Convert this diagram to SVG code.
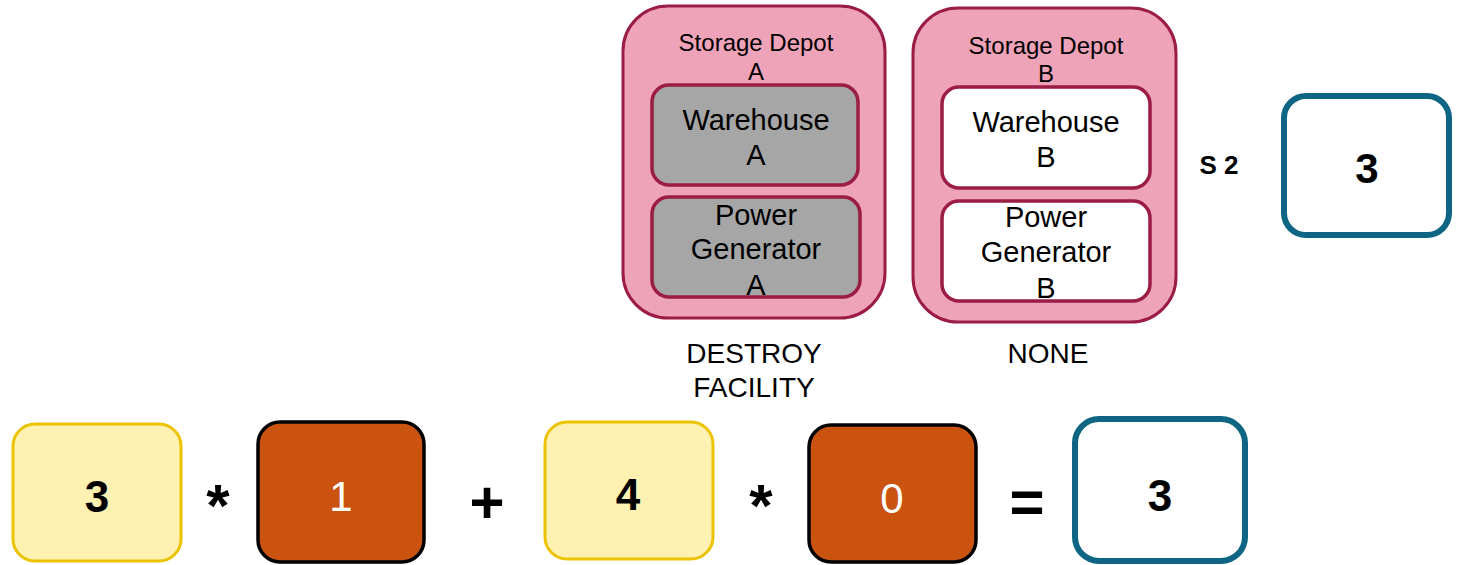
<svg xmlns="http://www.w3.org/2000/svg" width="1458" height="565" viewBox="0 0 1458 565">
  <style>
    text { font-family: "Liberation Sans", Arial, sans-serif; fill: #000; text-anchor: middle; }
    .depot { fill: #efa3b8; stroke: #9b1c45; stroke-width: 3; }
    .inner { stroke: #9b1c45; stroke-width: 3.5; }
    .destroyed { fill: #a6a6a6; }
    .intact { fill: #ffffff; }
    .weight { fill: #fff1b1; stroke: #ebc300; stroke-width: 3; }
    .flag { fill: #c9530f; stroke: #000; stroke-width: 3.5; }
    .result { fill: #ffffff; stroke: #0e6584; stroke-width: 6; }
    .t24 { font-size: 24px; }
    .t28 { font-size: 28px; }
    .t29 { font-size: 29px; }
    .num { font-size: 44px; font-weight: bold; }
    .flagnum { font-size: 42px; fill: #ffffff; }
    .op { font-size: 60px; font-weight: bold; }
  </style>

  <!-- Storage depot A: both facilities destroyed -->
  <g id="depot-a">
    <rect class="depot" x="623" y="6" width="262" height="312" rx="45"/>
    <text class="t24" x="756" y="51">Storage Depot</text>
    <text class="t24" x="756" y="80">A</text>
  </g>
  <g id="warehouse-a">
    <rect class="inner destroyed" x="652" y="85" width="206" height="100" rx="17"/>
    <text class="t29" x="756" y="130">Warehouse</text>
    <text class="t29" x="756" y="165">A</text>
  </g>
  <g id="generator-a">
    <rect class="inner destroyed" x="652" y="197" width="208" height="100" rx="17"/>
    <text class="t29" x="756" y="225">Power</text>
    <text class="t29" x="756" y="259">Generator</text>
    <text class="t29" x="756" y="295">A</text>
  </g>
  <g id="label-a">
    <text class="t28" x="754" y="363">DESTROY</text>
    <text class="t28" x="754" y="397">FACILITY</text>
  </g>

  <!-- Storage depot B: untouched -->
  <g id="depot-b">
    <rect class="depot" x="913" y="8" width="263" height="314" rx="45"/>
    <text class="t24" x="1046" y="54">Storage Depot</text>
    <text class="t24" x="1046" y="82">B</text>
  </g>
  <g id="warehouse-b">
    <rect class="inner intact" x="942" y="87" width="208" height="101" rx="17"/>
    <text class="t29" x="1046" y="132">Warehouse</text>
    <text class="t29" x="1046" y="167">B</text>
  </g>
  <g id="generator-b">
    <rect class="inner intact" x="942" y="201" width="208" height="100" rx="17"/>
    <text class="t29" x="1046" y="227">Power</text>
    <text class="t29" x="1046" y="262">Generator</text>
    <text class="t29" x="1046" y="298">B</text>
  </g>
  <g id="label-b">
    <text class="t28" x="1048" y="363">NONE</text>
  </g>

  <!-- Score for strategy S 2 -->
  <g id="score-s2">
    <text x="1219" y="174" style="font-size:26px;font-weight:bold">S 2</text>
    <rect class="result" x="1284" y="96" width="165" height="139" rx="22"/>
    <text class="num" x="1367" y="183" style="font-size:42px">3</text>
  </g>

  <!-- Weighted sum: 3*1 + 4*0 = 3 -->
  <g id="weight-1">
    <rect class="weight" x="13" y="424" width="168" height="137" rx="22"/>
    <text class="num" x="97" y="512">3</text>
  </g>
  <g id="flag-1">
    <rect class="flag" x="258" y="422" width="166" height="140" rx="22"/>
    <text class="flagnum" x="341" y="511">1</text>
  </g>
  <g id="weight-2">
    <rect class="weight" x="545" y="422" width="168" height="137" rx="22"/>
    <text class="num" x="628" y="510">4</text>
  </g>
  <g id="flag-2">
    <rect class="flag" x="809" y="425" width="167" height="137" rx="22"/>
    <text class="flagnum" x="892" y="513">0</text>
  </g>
  <g id="total">
    <rect class="result" x="1075" y="419" width="170" height="142" rx="24"/>
    <text class="num" x="1160" y="511">3</text>
  </g>

  <g id="operators">
    <text class="op" x="218" y="526">*</text>
    <text class="op" x="487" y="523">+</text>
    <text class="op" x="761" y="526">*</text>
    <text class="op" x="1027" y="522">=</text>
  </g>
</svg>
